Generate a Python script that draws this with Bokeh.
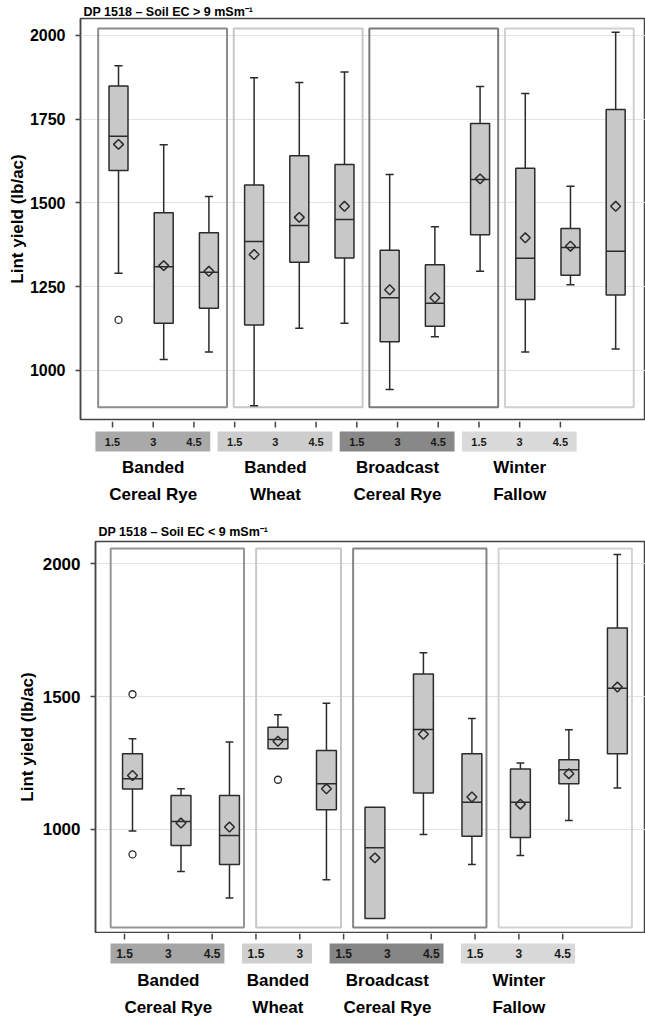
import numpy as np
from bokeh.plotting import figure
from bokeh.models import ColumnDataSource, Range1d, FixedTicker, Title
from bokeh.layouts import column
from bokeh.embed import file_html
from bokeh.resources import INLINE
from bokeh.core.properties import value

FONT = "Liberation Sans"

# ---------------- data ----------------
group_names = [["Banded", "Cereal Rye"], ["Banded", "Wheat"],
               ["Broadcast", "Cereal Rye"], ["Winter", "Fallow"]]

# Soil EC > 9 mS/m
hi_title = "DP 1518 \u2013 Soil EC > 9 mSm\u207b\u00b9"
hi_group = [0, 0, 0, 1, 1, 1, 2, 2, 2, 3, 3, 3]
hi_rate = ["1.5", "3", "4.5", "1.5", "3", "4.5", "1.5", "3", "4.5", "1.5", "3", "4.5"]
hi_wlo = [1290, 1033, 1055, 895, 1126, 1141, 943, 1101, 1296, 1055, 1256, 1064]
hi_q1 = [1597, 1141, 1186, 1136, 1323, 1336, 1086, 1132, 1405, 1212, 1284, 1225]
hi_med = [1699, 1310, 1293, 1385, 1433, 1451, 1217, 1201, 1570, 1335, 1367, 1356]
hi_q3 = [1849, 1471, 1411, 1554, 1641, 1615, 1359, 1316, 1737, 1604, 1424, 1779]
hi_whi = [1910, 1674, 1519, 1874, 1860, 1891, 1585, 1429, 1848, 1827, 1550, 2010]
hi_mean = [1675, 1313, 1296, 1346, 1457, 1490, 1241, 1217, 1572, 1396, 1371, 1490]
hi_out_box = [0]
hi_out_val = [1151]
hi_yticks = [1000, 1250, 1500, 1750, 2000]

# Soil EC < 9 mS/m
lo_title = "DP 1518 \u2013 Soil EC < 9 mSm\u207b\u00b9"
lo_group = [0, 0, 0, 1, 1, 2, 2, 2, 3, 3, 3]
lo_rate = ["1.5", "3", "4.5", "1.5", "3", "1.5", "3", "4.5", "1.5", "3", "4.5"]
lo_wlo = [994, 842, 742, 1304, 811, 665, 981, 868, 902, 1034, 1156]
lo_q1 = [1152, 940, 868, 1304, 1074, 665, 1137, 974, 970, 1172, 1285]
lo_med = [1191, 1030, 977, 1339, 1172, 931, 1376, 1102, 1102, 1225, 1532]
lo_q3 = [1285, 1128, 1128, 1385, 1297, 1084, 1585, 1285, 1228, 1262, 1758]
lo_whi = [1341, 1153, 1329, 1432, 1475, 1084, 1665, 1418, 1250, 1375, 2035]
lo_mean = [1203, 1024, 1009, 1332, 1153, 893, 1358, 1122, 1095, 1210, 1536]
lo_out_box = [0, 0, 3]
lo_out_val = [1509, 906, 1187]
lo_yticks = [1000, 1500, 2000]

W = 645
BOX_FILL = "#c8c8c8"
INK = "#2b2b2b"
AXC = "#444444"


def chart(title, group, wlo, q1, med, q3, whi, mean, out_box, out_val, yticks, c):
    n = len(group)
    x = np.arange(1, n + 1)
    p = figure(width=W, height=c["h"], x_range=Range1d(*c["xr"]), y_range=Range1d(*c["yr"]),
               x_axis_location=None, toolbar_location=None, output_backend="svg",
               min_border_left=c["ml"], min_border_right=0, min_border_top=c["mt"],
               min_border_bottom=c["mb"], background_fill_color="white",
               border_fill_color="white")
    p.title = Title(text=title, align="left", offset=3, standoff=c["ts"],
                    text_font=FONT, text_font_style="bold", text_font_size="12.5px",
                    text_color="black")
    p.outline_line_color = AXC
    p.outline_line_width = 1.5
    p.xgrid.visible = False
    p.ygrid.grid_line_color = "#e4e4e4"
    p.ygrid.grid_line_width = 1.2

    # group frames
    for g in range(4):
        idx = [i for i in range(n) if group[i] == g]
        p.quad(left=[x[idx[0]] - c["gpl"]], right=[x[idx[-1]] + c["gpr"]],
               bottom=[c["gy"][0]], top=[c["gy"][1]], fill_color=None,
               line_color=c["gcol"][g], line_width=2)

    hw = c["bw"] / 2
    src = ColumnDataSource(dict(x=x, x0=x - hw, x1=x + hw, wlo=wlo, q1=q1, med=med, q3=q3,
                                whi=whi, mean=mean))
    p.segment(x0="x", x1="x", y0="wlo", y1="whi", source=src, line_color=INK, line_width=1.5)
    p.vbar(x="x", width=c["bw"], bottom="q1", top="q3", source=src, fill_color=BOX_FILL,
           line_color=INK, line_width=1.5)
    p.segment(x0="x0", x1="x1", y0="med", y1="med", source=src, line_color=INK, line_width=1.5)
    up = [i for i in range(n) if whi[i] > q3[i]]
    dn = [i for i in range(n) if wlo[i] < q1[i]]
    cw = c["cw"]
    p.segment(x0=[x[i] - cw for i in up], x1=[x[i] + cw for i in up],
              y0=[whi[i] for i in up], y1=[whi[i] for i in up], line_color=INK, line_width=1.5)
    p.segment(x0=[x[i] - cw for i in dn], x1=[x[i] + cw for i in dn],
              y0=[wlo[i] for i in dn], y1=[wlo[i] for i in dn], line_color=INK, line_width=1.5)
    p.scatter(x="x", y="mean", source=src, marker="square", angle=np.pi / 4, size=7,
              fill_alpha=0, line_color=INK, line_width=1.5)
    p.scatter(x=[x[i] for i in out_box], y=out_val, marker="circle", size=7,
              fill_color="white", line_color=INK, line_width=1.3)

    ya = p.yaxis[0]
    ya.ticker = FixedTicker(ticks=yticks)
    ya.minor_tick_line_color = None
    ya.major_tick_out = 5
    ya.major_tick_in = 0
    ya.axis_line_color = AXC
    ya.axis_line_width = 1.5
    ya.major_tick_line_color = AXC
    ya.major_tick_line_width = 1.5
    ya.major_label_text_font = FONT
    ya.major_label_text_font_style = "bold"
    ya.major_label_text_font_size = c["tfs"]
    ya.major_label_text_color = "black"
    ya.major_label_standoff = 10
    ya.axis_label = "Lint yield (lb/ac)"
    ya.axis_label_text_font = FONT
    ya.axis_label_text_font_style = "bold"
    ya.axis_label_text_font_size = "17px"
    ya.axis_label_text_line_height = 1.0
    ya.axis_label_text_color = "black"
    ya.axis_label_standoff = c["als"]
    return p


def band(group, rate, c):
    n = len(group)
    x = np.arange(1, n + 1)
    q = figure(width=W, height=c["h"], x_range=Range1d(*c["br"]), y_range=Range1d(c["h"], 0),
               x_axis_location=None, y_axis_location=None, toolbar_location=None,
               output_backend="svg", min_border_left=c["ml"], min_border_right=0,
               min_border_top=0, min_border_bottom=0, outline_line_color=None)
    q.grid.visible = False
    # tick marks hanging below the chart frame
    q.segment(x0=x, x1=x, y0=[0] * n, y1=[c["tl"]] * n, line_color=AXC, line_width=1.5)
    for g in range(4):
        idx = [i for i in range(n) if group[i] == g]
        q.quad(left=[x[idx[0]] - c["pl"]], right=[x[idx[-1]] + c["pr"]],
               top=[c["by"][0]], bottom=[c["by"][1]], fill_color=c["bcol"][g], line_color=None)
        cx = (x[idx[0]] + x[idx[-1]]) / 2
        q.text(x=[cx, cx], y=c["ny"], text=group_names[g], text_font=value(FONT),
               text_font_style="bold", text_font_size="17px", text_align="center",
               text_baseline="middle", text_color="black")
    q.text(x=x, y=[sum(c["by"]) / 2] * n, text=rate, text_font=value(FONT),
           text_font_style="bold", text_font_size=c["lfs"], text_align="center",
           text_baseline="middle", text_color="#1a1a1a")
    return q


cA = dict(h=421, ml=80, mt=18, mb=2, ts=0, xr=(0.159, 12.66), yr=(853.7, 2050.7),
          gy=(890, 2021), gpl=0.45, gpr=0.40,
          gcol=["#8c8c8c", "#c8c8c8", "#7a7a7a", "#d0d0d0"], bw=0.42, cw=0.09,
          tfs="16px", als=0)
cB = dict(h=89, ml=80, br=(0.214, 14.09), tl=6, by=(10, 30), ny=[46, 73], pl=0.42, pr=0.40,
          bcol=["#a9a9a9", "#cdcdcd", "#888888", "#dadada"], lfs="11px")
cC = dict(h=423, ml=95, mt=31, mb=1, ts=5, xr=(0.237, 11.58), yr=(612, 2084),
          gy=(631, 2058), gpl=0.45, gpr=0.30,
          gcol=["#959595", "#c8c8c8", "#858585", "#d3d3d3"], bw=0.41, cw=0.08,
          tfs="17px", als=3)
cD = dict(h=86, ml=95, br=(0.338, 12.89), tl=6, by=(10, 30), ny=[47, 74], pl=0.32, pr=0.28,
          bcol=["#a5a5a5", "#cfcfcf", "#858585", "#d8d8d8"], lfs="12px")

pA = chart(hi_title, hi_group, hi_wlo, hi_q1, hi_med, hi_q3, hi_whi, hi_mean,
           hi_out_box, hi_out_val, hi_yticks, cA)
pB = band(hi_group, hi_rate, cB)
pC = chart(lo_title, lo_group, lo_wlo, lo_q1, lo_med, lo_q3, lo_whi, lo_mean,
           lo_out_box, lo_out_val, lo_yticks, cC)
pD = band(lo_group, lo_rate, cD)

top = column(pA, pB, spacing=0)
bottom = column(pC, pD, spacing=0)
open("out.html", "w").write(file_html([top, bottom], INLINE))
